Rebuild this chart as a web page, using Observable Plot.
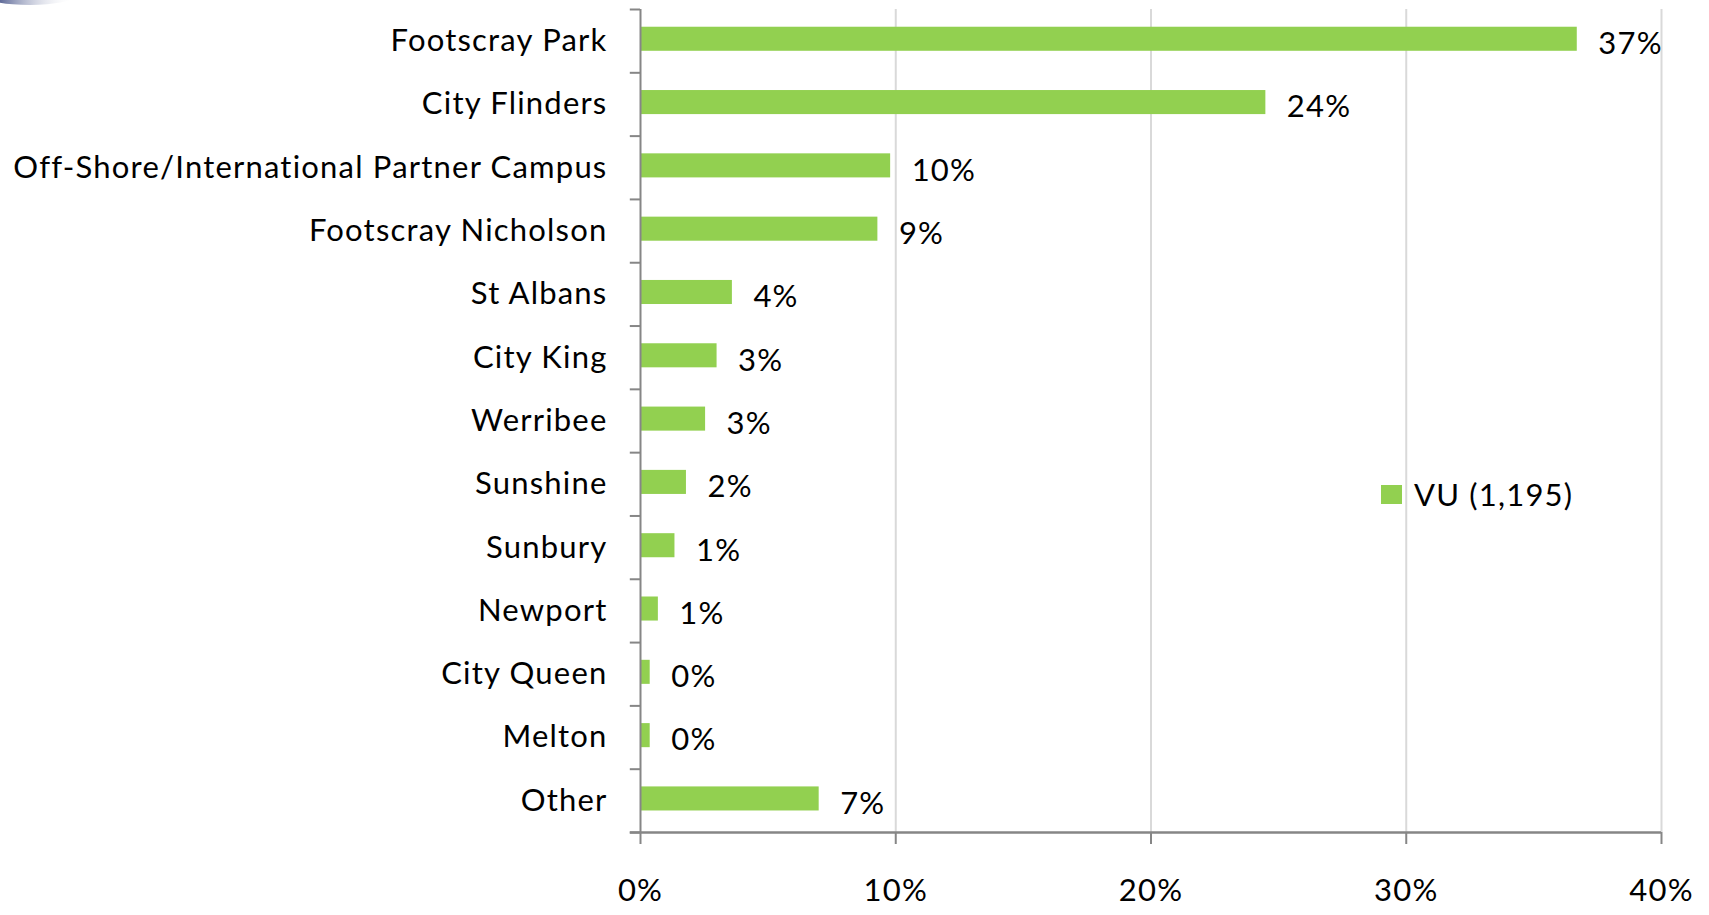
<!DOCTYPE html>
<html>
<head>
<meta charset="utf-8">
<script src="https://cdn.jsdelivr.net/npm/d3@7"></script>
<script src="https://cdn.jsdelivr.net/npm/@observablehq/plot@0.6"></script>
<style>
  html, body { margin: 0; padding: 0; background: #fff; }
  #wrap { position: relative; width: 1709px; height: 915px; overflow: hidden; font-family: Lato, sans-serif; }
  #legend { position: absolute; left: 1381px; top: 475px; display: flex; align-items: center; font-size: 31px; color: #000; letter-spacing: 1.2px; font-variant-ligatures: none; }
  #legend .sw { width: 21px; height: 19px; background: #92d050; margin-right: 12px; }
  #logo { position: absolute; left: 0; top: 0; }
  #chart svg text { letter-spacing: 1.2px; font-variant-ligatures: none; }
</style>
</head>
<body>
<div id="wrap">
  <svg id="logo" width="80" height="20"><defs><linearGradient id="g" x1="0" x2="1"><stop offset="0" stop-color="#1a2a6c"/><stop offset="1" stop-color="#ffffff" stop-opacity="0"/></linearGradient></defs><ellipse cx="30" cy="-4" rx="45" ry="9" fill="url(#g)"/></svg>
  <div id="chart"></div>
  <div id="legend"><div class="sw"></div><span>VU (1,195)</span></div>
</div>
<script>
const categories = ["Footscray Park", "City Flinders", "Off-Shore/International Partner Campus", "Footscray Nicholson", "St Albans", "City King", "Werribee", "Sunshine", "Sunbury", "Newport", "City Queen", "Melton", "Other"];
const values = [36.7, 24.5, 9.8, 9.3, 3.6, 3.0, 2.55, 1.8, 1.35, 0.7, 0.38, 0.38, 7.0];
const labels = ["37%", "24%", "10%", "9%", "4%", "3%", "3%", "2%", "1%", "1%", "0%", "0%", "7%"];
const xTicks = [0, 10, 20, 30, 40];

const data = categories.map((c, i) => ({ i, category: c, value: values[i], label: labels[i] }));
const axisColor = "#868686";

const chart = Plot.plot({
  width: 1709,
  height: 915,
  marginLeft: 640,
  marginRight: 48,
  marginTop: 9,
  marginBottom: 83,
  style: { fontFamily: "Lato, sans-serif", fontSize: "31px", color: "#000", background: "transparent" },
  x: { domain: [0, 40] },
  y: { domain: [0, 13], reverse: true },
  marks: [
    Plot.ruleX([10, 20, 30, 40], { y1: 0, y2: 13, stroke: "#d9d9d9", strokeWidth: 2 }),
    Plot.rectX(data, { x1: 0, x2: "value", y1: d => d.i + 0.28, y2: d => d.i + 0.66, fill: "#92d050" }),
    Plot.text(data, { x: "value", y: d => d.i + 0.5, text: "label", textAnchor: "start", dx: 21, dy: 3, fill: "#000" }),
    Plot.ruleX([0], { y1: 0, y2: 13, stroke: axisColor, strokeWidth: 2 }),
    Plot.ruleY(d3.range(14), { x1: -0.4, x2: 0, stroke: axisColor, strokeWidth: 2 }),
    Plot.ruleY([13], { x1: -0.4, x2: 40, stroke: axisColor, strokeWidth: 2.5 }),
    Plot.axisX({ ticks: xTicks, tickSize: 12, tickPadding: 34, stroke: axisColor, strokeWidth: 2, tickFormat: d => d + "%", label: null, fill: "#000" }),
    Plot.axisY({ ticks: d3.range(13).map(i => i + 0.5), tickFormat: t => categories[Math.floor(t)], tickSize: 0, tickPadding: 33, label: null, fill: "#000" })
  ]
});
document.getElementById("chart").appendChild(chart);
</script>
</body>
</html>
